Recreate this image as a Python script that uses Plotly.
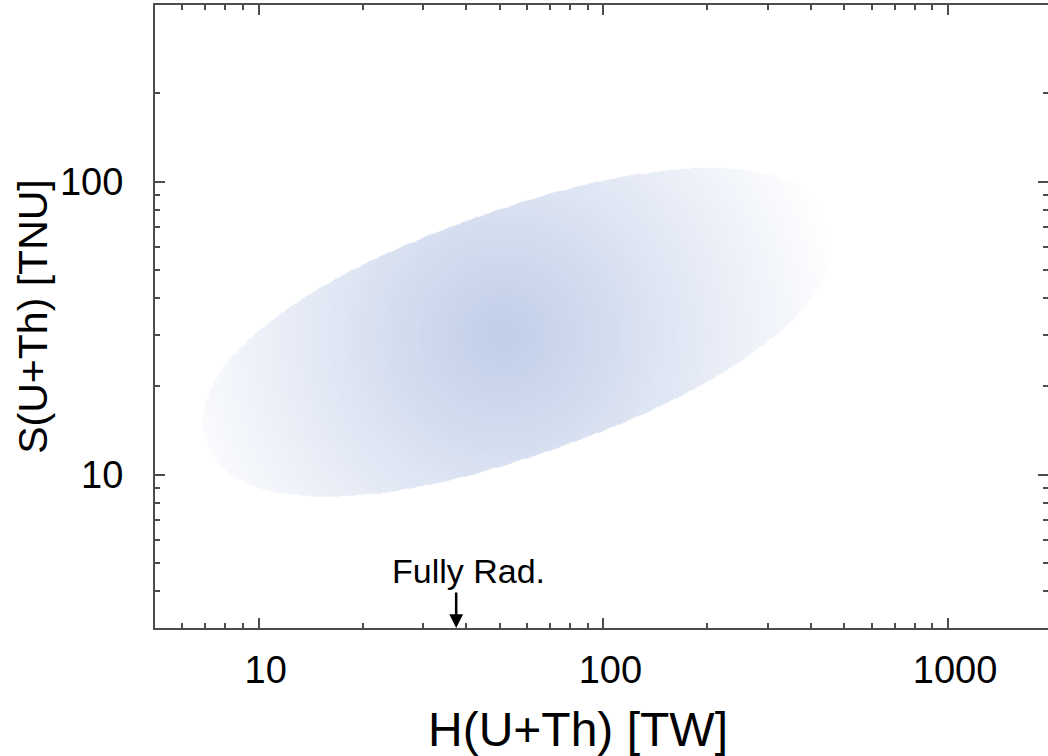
import numpy as np
import plotly.graph_objects as go

# ---- axis data ----
x_range_vals = [5, 1950]          # H(U+Th) [TW], log axis
y_range_vals = [3, 400]           # S(U+Th) [TNU], log axis
x_major = [10, 100, 1000]
x_major_text = ["10", "100", "1000"]
y_major = [10, 100]
y_major_text = ["10", "100"]
x_minor = [6, 7, 8, 9, 20, 30, 40, 50, 60, 70, 80, 90,
           200, 300, 400, 500, 600, 700, 800, 900]
y_minor = [4, 5, 6, 7, 8, 9, 20, 30, 40, 50, 60, 70, 80, 90, 200]
x_title = "H(U+Th) [TW]"
y_title = "S(U+Th) [TNU]"

# ---- allowed region (rounded ellipse in log-log space) ----
region_center = [56.5, 30.6]       # H, S
region_semi_axes = [0.957, 0.354]  # decades (x-decade units)
region_angle_deg = 19.5
region_power = 2.2
gradient_center = [51.0, 29.8]     # H, S of darkest point
gradient_radius = 1.0              # decades (x-decade units)
y_aspect = 0.85                    # y-decade length relative to x-decade

# ---- Fully radiogenic marker ----
fully_rad_H = 37.4
fully_rad_label = "Fully Rad."

# build shaded field inside the region
lx = np.linspace(0.72, 2.76, 680)
ly = np.linspace(0.88, 2.10, 400)
LX, LY = np.meshgrid(lx, ly)
cx, cy = np.log10(region_center[0]), np.log10(region_center[1])
th = np.radians(region_angle_deg)
X = LX - cx
Y = (LY - cy) * y_aspect
u = X * np.cos(th) + Y * np.sin(th)
v = -X * np.sin(th) + Y * np.cos(th)
inside = (np.abs(u / region_semi_axes[0]) ** region_power
          + np.abs(v / region_semi_axes[1]) ** region_power) <= 1
gx, gy = np.log10(gradient_center[0]), np.log10(gradient_center[1])
d = np.sqrt((LX - gx) ** 2 + ((LY - gy) * y_aspect) ** 2)
Z = np.clip(1 - d / gradient_radius, 0, 1)
Z = np.where(inside, np.round(Z, 2), np.nan)

fig = go.Figure()
fig.add_trace(go.Heatmap(
    x=np.round(10 ** lx, 4), y=np.round(10 ** ly, 4), z=Z,
    colorscale=[[0, "rgb(255,255,255)"], [1, "rgb(193,206,232)"]],
    zmin=0, zmax=1, showscale=False, hoverinfo="skip", zsmooth=False,
))

axis_col = "#4d4d4d"
font_family = "Liberation Sans, Arial, sans-serif"

fig.update_layout(
    template="none",
    width=1048, height=756,
    margin=dict(l=155, r=0, t=5, b=128),
    paper_bgcolor="white", plot_bgcolor="white",
    font=dict(family=font_family, color="black", size=38),
    showlegend=False,
)
fig.update_xaxes(
    type="log", range=[np.log10(x_range_vals[0]), np.log10(x_range_vals[1])],
    automargin=False,
    tickvals=x_major, ticktext=x_major_text,
    ticks="inside", ticklen=10, tickwidth=2, tickcolor=axis_col,
    minor=dict(tickvals=x_minor, ticks="inside", ticklen=5, tickwidth=2, tickcolor=axis_col),
    showline=True, linecolor=axis_col, linewidth=2, mirror="ticks",
    showgrid=False, zeroline=False,
    tickfont=dict(size=38), ticklabelstandoff=7, ticklabelshift=7,
)
fig.update_yaxes(
    type="log", range=[np.log10(y_range_vals[0]), np.log10(y_range_vals[1])],
    automargin=False,
    tickvals=y_major, ticktext=y_major_text,
    ticks="inside", ticklen=10, tickwidth=2, tickcolor=axis_col,
    minor=dict(tickvals=y_minor, ticks="inside", ticklen=5, tickwidth=2, tickcolor=axis_col),
    showline=True, linecolor=axis_col, linewidth=2, mirror="ticks",
    showgrid=False, zeroline=False,
    tickfont=dict(size=38), ticklabelstandoff=22,
    title=dict(text=y_title, font=dict(size=41), standoff=0),
)

# x-axis title (placed as in the reference, slightly left of centre)
fig.add_annotation(
    x=0.474, y=-0.1624, xref="paper", yref="paper",
    text=x_title, showarrow=False, xanchor="center", yanchor="middle",
    font=dict(size=48, color="black", family=font_family),
)

# arrow
fig.add_annotation(
    x=np.log10(fully_rad_H), y=0, xref="x", yref="paper",
    text="", showarrow=True, ax=0, ay=-37, axref="pixel", ayref="pixel",
    arrowhead=2, arrowsize=1.1, arrowwidth=2.5, arrowcolor="black", standoff=0,
)
fig.add_annotation(
    x=np.log10(fully_rad_H), y=0.058, xref="x", yref="paper",
    text=fully_rad_label, showarrow=False, yanchor="bottom", xanchor="center",
    xshift=12,
    font=dict(size=34, color="black", family=font_family),
)

# remove the default page margin so the figure sits at the window's corner
fig.write_html("out.html", config={"displayModeBar": False},
               post_script="document.body.style.margin='0px';")
